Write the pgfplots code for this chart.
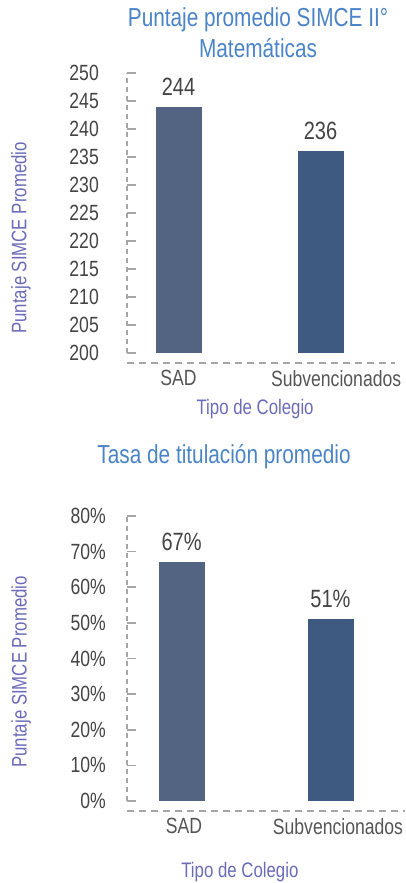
\documentclass[border=0pt]{standalone}
\usepackage{fontspec}
\setmainfont{Liberation Sans}[FakeStretch=0.8]
\usepackage{pgfplots}
\pgfplotsset{compat=1.18}
\definecolor{titleblue}{HTML}{4A84C6}
\definecolor{labpurple}{HTML}{6A6AB8}
\definecolor{tickgray}{HTML}{444444}
\definecolor{catgray}{HTML}{555555}
\definecolor{axgray}{HTML}{A6A6A6}
\definecolor{barA}{HTML}{536482}
\definecolor{barB}{HTML}{3E5A80}
\pgfplotsset{
  common/.style={
    scale only axis,
    axis x line*=bottom, axis y line*=left,
    enlargelimits=false,
    /pgf/number format/assume math mode=true,
    tick align=inside, major tick length=9pt,
    ytick style={color=axgray, line width=1.5pt, solid},
    xtick style={draw=none},
    y axis line style={color=axgray, line width=1.5pt, dash pattern=on 5pt off 4pt, -},
    x axis line style={color=axgray, line width=2pt, dash pattern=on 7pt off 5pt, -},
    axis x line shift=10pt,
    yticklabel style={font=\fontsize{22}{26}\selectfont, color=tickgray, anchor=east, inner sep=0pt},
    xticklabel style={font=\fontsize{22}{26}\selectfont, color=catgray, anchor=north, inner sep=0pt, yshift=-7pt},
    xticklabels={SAD,Subvencionados},
    title style={font=\fontsize{26}{31}\selectfont, color=titleblue, anchor=center, align=center},
    xlabel style={font=\fontsize{21}{25}\selectfont, color=labpurple, anchor=center},
    ylabel style={font=\fontsize{21}{25}\selectfont, color=labpurple, anchor=center, rotate=0},
    xlabel={Tipo de Colegio},
    ylabel={Puntaje SIMCE Promedio},
    nodes near coords style={font=\fontsize{25}{30}\selectfont, color=tickgray, anchor=south, inner sep=0pt, yshift=11pt},
  },
  barstyle/.style={ybar, bar width=46pt, draw=none, fill=#1},
}
\begin{document}
\begin{tikzpicture}
\useasboundingbox (0,0) rectangle (405pt,883pt);
% Chart 1
\begin{axis}[common,
  at={(127pt,530pt)}, anchor=south west,
  width=268pt, height=280pt,
  xmin=-0.3627, xmax=1.5246,
  ymin=200, ymax=250,
  ytick={200,205,...,250},
  xtick={0,1.11},
  yticklabel style={xshift=-28pt},
  nodes near coords,
  title={Puntaje promedio SIMCE II°\\Matemáticas},
  title style={at={(0.489,1.121)}},
  xlabel style={at={(0.478,-0.2)}},
  ylabel style={at={(-0.396,0.411)}},
]
\addplot[barstyle=barA] coordinates {(0,244)};
\addplot[barstyle=barB] coordinates {(1,236)};
\end{axis}
% Chart 2
\begin{axis}[common,
  at={(127pt,82pt)}, anchor=south west,
  width=278pt, height=285pt,
  xmin=-0.366, xmax=1.5,
  ymin=0, ymax=80,
  ytick={0,10,...,80},
  yticklabel={\pgfmathprintnumber{\tick}\%},
  xtick={0.017,1.05},
  yticklabel style={xshift=-21pt},
  nodes near coords={\pgfmathprintnumber{\pgfplotspointmeta}\%},
  title={Tasa de titulación promedio},
  title style={at={(0.349,1.189)}},
  xlabel style={at={(0.406,-0.249)}},
  ylabel style={at={(-0.381,0.453)}},
]
\addplot[barstyle=barA] coordinates {(0,67)};
\addplot[barstyle=barB] coordinates {(1,51)};
\end{axis}
\end{tikzpicture}
\end{document}
